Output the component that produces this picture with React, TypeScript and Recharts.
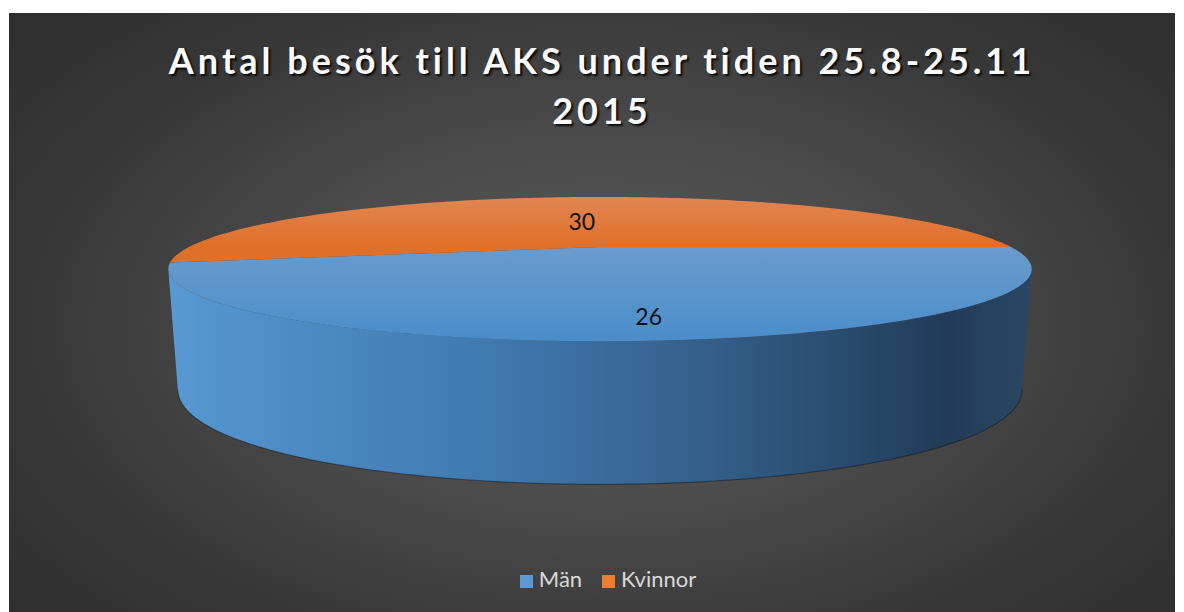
import React from 'react';
import { PieChart, Pie, Cell, Legend } from 'recharts';

// ---- data ----
const categories = ['Män', 'Kvinnor'];
const visits = [26, 30];
const colors = ['#5b9bd5', '#ed7d31'];
const titleLines = ['Antal besök till AKS under tiden 25.8-25.11', '2015'];

const data = categories.map((name, i) => ({ name, value: visits[i] }));
const total = visits.reduce((a, b) => a + b, 0);
// Kvinnor (second slice) ends at 0°, so the pie starts where it begins
const START = (360 * visits[1]) / total;

// ---- 3D look (style only) ----
const PERSP = 0.306;
const SQUASH = 0.159;
const DEPTH = 0.268;
const DEPTH_P = 0.3;
const BOTTOM_SHRINK = 0.978;
const LABEL_R = [0.8, 0.45];
const FONT = 'Lato, "Open Sans", sans-serif';

const rad = (d: number) => (d * Math.PI) / 180;

function proj(cx: number, cy: number, R: number, r: number, deg: number): [number, number] {
  const t = rad(deg);
  const s = 1 / (1 + PERSP * r * Math.sin(t));
  return [cx + R * r * Math.cos(t) * s, cy - SQUASH * R * r * Math.sin(t) * s];
}

function projBottom(cx: number, cy: number, R: number, deg: number): [number, number] {
  const [x, y] = proj(cx, cy, R, 1, deg);
  const d = DEPTH * R * (1 - DEPTH_P * Math.sin(rad(deg)));
  return [cx + (x - cx) * BOTTOM_SHRINK, y + d];
}

function arcPoints(fn: (deg: number) => [number, number], a: number, b: number) {
  const n = Math.max(2, Math.ceil(Math.abs(b - a)));
  const pts: [number, number][] = [];
  for (let i = 0; i <= n; i++) pts.push(fn(a + ((b - a) * i) / n));
  return pts;
}

const toPath = (pts: [number, number][]) =>
  pts.map((p, i) => `${i ? 'L' : 'M'}${p[0].toFixed(2)},${p[1].toFixed(2)}`).join(' ');

function render3D(props: any) {
  const { cx, cy, outerRadius: R, startAngle, endAngle, index, value } = props;
  const lo = Math.min(startAngle, endAngle);
  const hi = Math.max(startAngle, endAngle);
  const phi = (Math.asin(PERSP) * 180) / Math.PI;

  const walls: React.ReactNode[] = [];
  for (let k = -1; k <= 2; k++) {
    const a = Math.max(lo, 180 + phi + 360 * k);
    const b = Math.min(hi, 360 - phi + 360 * k);
    if (b > a) {
      const topPts = arcPoints((d) => proj(cx, cy, R, 1, d), a, b);
      const botPts = arcPoints((d) => projBottom(cx, cy, R, d), b, a);
      walls.push(
        <g key={`w${k}`}>
          <path d={toPath([...topPts, ...botPts]) + ' Z'} fill="url(#wallGrad)" />
          <path d={toPath(botPts)} fill="none" stroke="rgba(0,0,0,0.35)" strokeWidth={1.2} />
        </g>
      );
    }
  }

  const topPts = arcPoints((d) => proj(cx, cy, R, 1, d), lo, hi);
  const topPath = `M${cx},${cy} ` + toPath(topPts).replace(/^M/, 'L') + ' Z';
  const mid = (lo + hi) / 2;
  const [tx, ty] = proj(cx, cy, R, LABEL_R[index] ?? 0.7, mid);

  return (
    <g key={`s${index}`}>
      {index === 0 && (
        <defs>
          <linearGradient id="wallGrad" gradientUnits="userSpaceOnUse" x1={cx - 1.052 * R} y1={0} x2={cx + 1.052 * R} y2={0}>
            <stop offset="0" stopColor="#5a9ad4" />
            <stop offset="0.04" stopColor="#5494cf" />
            <stop offset="0.38" stopColor="#3f78ad" />
            <stop offset="0.5" stopColor="#3a6c9c" />
            <stop offset="0.61" stopColor="#34618c" />
            <stop offset="0.9" stopColor="#223c58" />
            <stop offset="1" stopColor="#2c4763" />
          </linearGradient>
          <linearGradient id="topGrad0" gradientUnits="userSpaceOnUse" x1={0} y1={cy} x2={0} y2={cy + SQUASH * R * 1.44}>
            <stop offset="0" stopColor="#6a9bcb" />
            <stop offset="1" stopColor="#4a8dcb" />
          </linearGradient>
          <linearGradient id="topGrad1" gradientUnits="userSpaceOnUse" x1={0} y1={cy - SQUASH * R * 0.77} x2={0} y2={cy}>
            <stop offset="0" stopColor="#e18654" />
            <stop offset="1" stopColor="#e06f27" />
          </linearGradient>
        </defs>
      )}
      {walls}
      <path d={topPath} fill={`url(#topGrad${index})`} />
      <text
        x={tx}
        y={ty}
        textAnchor="middle"
        dominantBaseline="central"
        fontFamily={FONT}
        fontSize={23}
        fill="#111"
      >
        {value}
      </text>
    </g>
  );
}

export default function App() {
  return (
    <div style={{ position: 'absolute', left: 0, top: 0, width: 1184, height: 612, background: '#fff', overflow: 'hidden' }}>
      <div
        style={{
          position: 'absolute',
          left: 9,
          top: 13,
          width: 1166,
          height: 599,
          background:
            'radial-gradient(ellipse 75% 85% at 51% 52%, #5a5a5a 0%, #4c4c4c 35%, #383838 65%, #2a2a2a 100%)',
        }}
      >
        <PieChart width={1166} height={599} margin={{ top: 0, right: 0, bottom: 0, left: 0 }}>
          <Pie
            data={data}
            dataKey="value"
            nameKey="name"
            cx={591}
            cy={234}
            outerRadius={411}
            startAngle={START}
            endAngle={START + 360}
            stroke="none"
            label={render3D}
            labelLine={false}
            isAnimationActive={false}
          >
            {data.map((d, i) => (
              <Cell key={d.name} fill={colors[i]} fillOpacity={0} stroke="none" />
            ))}
          </Pie>
          <Legend
            verticalAlign="bottom"
            align="center"
            iconType="square"
            iconSize={13}
            itemSorter={(item: any) => categories.indexOf(item.value)}
            wrapperStyle={{ top: 552, bottom: 'auto', left: 26, fontFamily: FONT, fontSize: 22 }}
            formatter={(v: any) => <span style={{ color: '#d9d9d9', marginRight: 10, marginLeft: 2 }}>{v}</span>}
          />
        </PieChart>
      </div>
      <div
        style={{
          position: 'absolute',
          left: 102,
          width: 1000,
          top: 35,
          textAlign: 'center',
          fontFamily: FONT,
          fontWeight: 700,
          fontSize: 36,
          letterSpacing: 4,
          lineHeight: '50px',
          color: '#fafafa',
          textShadow: '2px 2px 2px rgba(0,0,0,0.85)',
        }}
      >
        {titleLines.map((l) => (
          <div key={l}>{l}</div>
        ))}
      </div>
    </div>
  );
}
